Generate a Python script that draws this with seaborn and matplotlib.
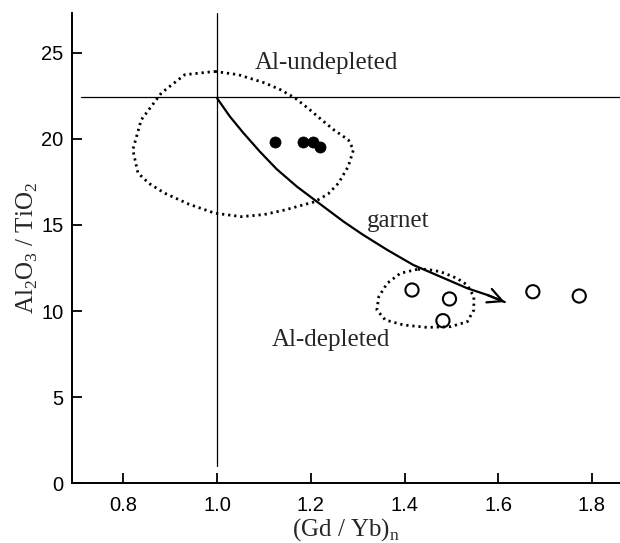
import matplotlib
matplotlib.use("Agg")
import matplotlib.pyplot as plt
import pandas as pd
import seaborn as sns

# ── data ──────────────────────────────────────────────────────────────────
undepleted_x = [1.123, 1.183, 1.205, 1.220]
undepleted_y = [19.8, 19.8, 19.8, 19.55]

depleted_x = [1.416, 1.496, 1.482, 1.674, 1.773]
depleted_y = [11.22, 10.70, 9.44, 11.12, 10.87]

garnet_x = [1.000, 1.027, 1.055, 1.091, 1.127, 1.170, 1.213, 1.270, 1.310,
            1.363, 1.419, 1.477, 1.534, 1.577, 1.614]
garnet_y = [22.35, 21.30, 20.37, 19.26, 18.24, 17.23, 16.35, 15.19, 14.45,
            13.55, 12.67, 11.99, 11.32, 10.93, 10.52]

field_up_x = [0.995, 1.045, 1.102, 1.135, 1.166, 1.195, 1.223, 1.250, 1.280,
              1.291, 1.280, 1.259, 1.237, 1.209, 1.145, 1.100, 1.052, 0.995,
              0.940, 0.888, 0.855, 0.831, 0.820, 0.838, 0.881, 0.931, 0.995]
field_up_y = [23.91, 23.72, 23.24, 22.85, 22.37, 21.75, 21.10, 20.50, 19.94,
              19.36, 18.40, 17.42, 16.80, 16.35, 15.87, 15.60, 15.48, 15.68,
              16.20, 16.84, 17.40, 18.01, 19.36, 21.10, 22.66, 23.72, 23.91]

field_dn_x = [1.427, 1.391, 1.363, 1.345, 1.341, 1.359, 1.398, 1.448, 1.498,
              1.534, 1.548, 1.548, 1.534, 1.512, 1.477, 1.448, 1.427]
field_dn_y = [12.42, 12.19, 11.61, 10.83, 10.06, 9.48, 9.19, 9.05, 9.09,
              9.38, 10.06, 10.83, 11.51, 11.90, 12.28, 12.42, 12.42]

ref_x = 1.0
ref_y = 22.4

x_ticks = [0.8, 1.0, 1.2, 1.4, 1.6, 1.8]
y_ticks = [0, 5, 10, 15, 20, 25]

sns.set_style("ticks")
plt.rcParams["font.family"] = ["Liberation Sans", "DejaVu Sans"]
plt.rcParams["mathtext.fontset"] = "custom"
plt.rcParams["mathtext.rm"] = "Liberation Serif"

SERIF = ["Liberation Serif", "DejaVu Serif"]

fig = plt.figure(figsize=(6.2, 5.43), dpi=100)
ax = fig.add_axes([0.116, 0.11, 0.884, 0.866])

# reference cross-hair
ax.plot([ref_x, ref_x], [1.0, 27.3], color="black", lw=0.9)
ax.plot([0.71, 1.86], [ref_y, ref_y], color="black", lw=0.9)

# dotted fields
for fx, fy in [(field_up_x, field_up_y), (field_dn_x, field_dn_y)]:
    sns.lineplot(x=fx, y=fy, sort=False, estimator=None, ax=ax,
                 color="black", lw=2.0, linestyle=(0, (0.8, 1.4)))

# garnet trend with arrow
curve = pd.DataFrame({"x": garnet_x, "y": garnet_y})
sns.lineplot(data=curve, x="x", y="y", sort=False, estimator=None, ax=ax,
             color="black", lw=1.6)
ax.annotate("", xy=(garnet_x[-1], garnet_y[-1]),
            xytext=(garnet_x[-2], garnet_y[-2]),
            arrowprops=dict(arrowstyle="->", color="black", lw=1.6,
                            mutation_scale=26, shrinkA=0, shrinkB=0))

sns.scatterplot(x=undepleted_x, y=undepleted_y, ax=ax, color="black",
                s=64, edgecolor="black", linewidth=0.5, zorder=5)
sns.scatterplot(x=depleted_x, y=depleted_y, ax=ax, facecolor="none",
                s=90, edgecolor="black", linewidth=1.5, zorder=5)

ax.text(1.08, 24.4, "Al-undepleted", family=SERIF, fontsize=18, va="center")
ax.text(1.32, 15.2, "garnet", family=SERIF, fontsize=18, va="center")
ax.text(1.116, 8.3, "Al-depleted", family=SERIF, fontsize=18, va="center")

ax.set_xlim(0.69, 1.86)
ax.set_ylim(0, 27.3)
ax.set_xticks(x_ticks)
ax.set_xticklabels([f"{t:.1f}" for t in x_ticks])
ax.set_yticks(y_ticks)
ax.tick_params(direction="in", length=7, width=1.3, labelsize=14.5,
               color="black", labelcolor="black")
ax.tick_params(axis="x", pad=9)
ax.tick_params(axis="y", pad=6)
sns.despine(ax=ax, top=True, right=True)
for s in ["left", "bottom"]:
    ax.spines[s].set_linewidth(1.4)
    ax.spines[s].set_color("black")

ax.set_xlabel("(Gd / Yb)$_\\mathregular{n}$", family=SERIF, fontsize=18, labelpad=1)
ax.set_ylabel("Al$_\\mathregular{2}$O$_\\mathregular{3}$ / TiO$_\\mathregular{2}$",
              family=SERIF, fontsize=18, labelpad=1)

fig.savefig("out.png", dpi=100)
